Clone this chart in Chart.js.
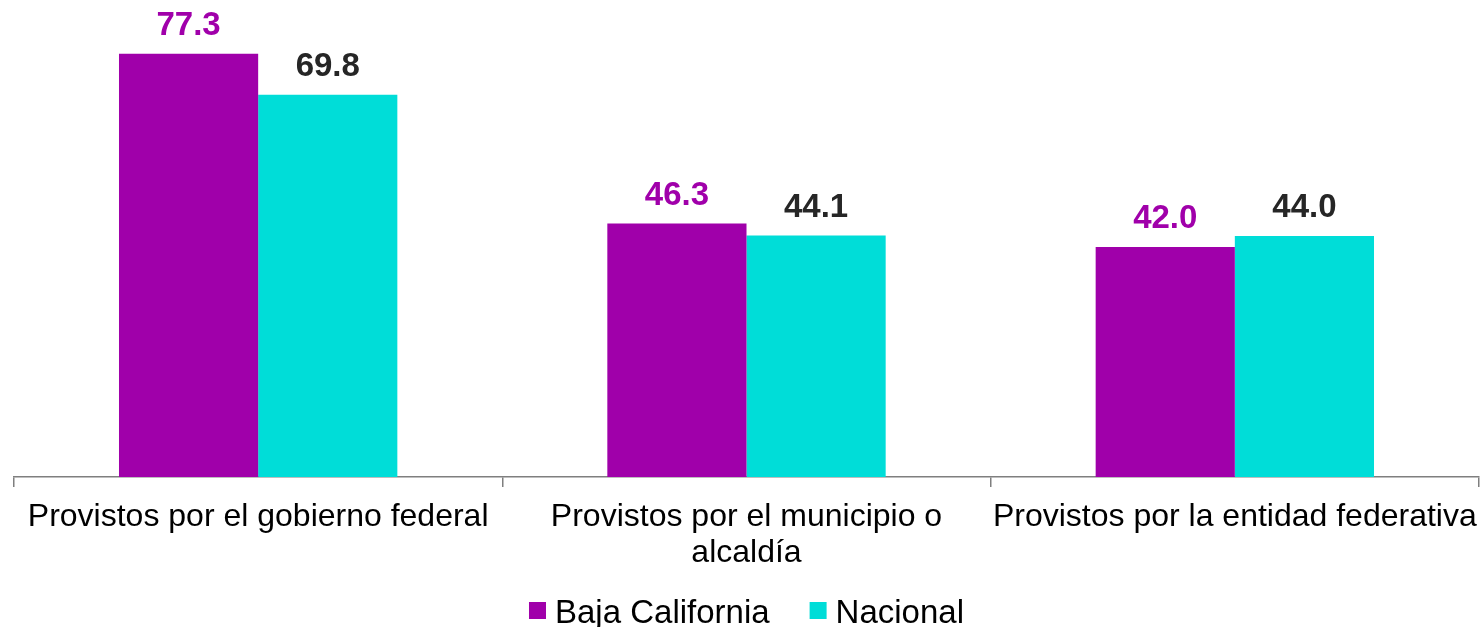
<!DOCTYPE html>
<html>
<head>
<meta charset="utf-8">
<script src="https://cdn.jsdelivr.net/npm/chart.js@4"></script>
<style>
  html, body { margin: 0; padding: 0; background: #fff; }
  #wrap { width: 1481px; height: 627px; }
</style>
</head>
<body>
<div id="wrap"><canvas id="barChart" width="1481" height="627"></canvas></div>
<script>
// chart data
const categories = [
    'Provistos por el gobierno federal',
    ['Provistos por el municipio o', 'alcaldía'],
    'Provistos por la entidad federativa'
];
const seriesNames = ['Baja California', 'Nacional'];
const bajaCalifornia = [77.3, 46.3, 42.0];
const nacional = [69.8, 44.1, 44.0];

const seriesColors = ['#A000AA', '#00DDD8'];
const valueColors = ['#A000AA', '#262626'];
const fontFamily = '"Liberation Sans", Arial, sans-serif';

// value labels above each bar + custom legend at the bottom
const barLabels = {
    id: 'barLabels',
    afterDatasetsDraw(chart) {
        const ctx = chart.ctx;
        ctx.save();
        ctx.font = 'bold 33px ' + fontFamily;
        ctx.textAlign = 'center';
        ctx.textBaseline = 'alphabetic';
        chart.data.datasets.forEach((ds, i) => {
            const meta = chart.getDatasetMeta(i);
            ctx.fillStyle = valueColors[i];
            meta.data.forEach((bar, j) => {
                ctx.fillText(ds.data[j].toFixed(1), bar.x, bar.y - 19);
            });
        });
        ctx.restore();
    },
    afterDraw(chart) {
        const ctx = chart.ctx;
        const area = chart.chartArea;
        ctx.save();
        ctx.font = '33px ' + fontFamily;
        const box = 17, gap = 9, itemGap = 40;
        const widths = seriesNames.map(n => box + gap + ctx.measureText(n).width);
        const total = widths.reduce((a, b) => a + b, 0) + itemGap * (widths.length - 1);
        let x = (area.left + area.right) / 2 - total / 2;
        const baseY = 623;
        seriesNames.forEach((name, i) => {
            ctx.fillStyle = seriesColors[i];
            ctx.fillRect(x, baseY - 21, box, box);
            ctx.fillStyle = '#000';
            ctx.textBaseline = 'alphabetic';
            ctx.textAlign = 'left';
            ctx.fillText(name, x + box + gap, baseY);
            x += widths[i] + itemGap;
        });
        ctx.restore();
    }
};

const ctx = document.getElementById('barChart').getContext('2d');
new Chart(ctx, {
    type: 'bar',
    data: {
        labels: categories,
        datasets: [
            { label: seriesNames[0], data: bajaCalifornia, backgroundColor: seriesColors[0] },
            { label: seriesNames[1], data: nacional, backgroundColor: seriesColors[1] }
        ]
    },
    options: {
        responsive: false,
        animation: false,
        devicePixelRatio: 1,
        categoryPercentage: 0.57,
        barPercentage: 1,
        layout: { padding: { top: 39, left: 14, right: 2, bottom: 0 } },
        plugins: {
            legend: { display: false },
            tooltip: { enabled: false }
        },
        scales: {
            x: {
                afterFit(scale) {
                    scale.height = 150;
                    scale.paddingLeft = 0;
                    scale.paddingRight = 0;
                },
                border: { display: true, color: '#7f7f7f', width: 1.5 },
                grid: {
                    drawOnChartArea: false,
                    drawTicks: true,
                    tickLength: 10,
                    color: '#7f7f7f',
                    lineWidth: 1.5
                },
                ticks: {
                    color: '#000',
                    padding: 12,
                    maxRotation: 0,
                    autoSkip: false,
                    font: { family: fontFamily, size: 32, lineHeight: 1.12 }
                }
            },
            y: {
                display: false,
                min: 0,
                max: 80
            }
        }
    },
    plugins: [barLabels]
});
</script>
</body>
</html>
